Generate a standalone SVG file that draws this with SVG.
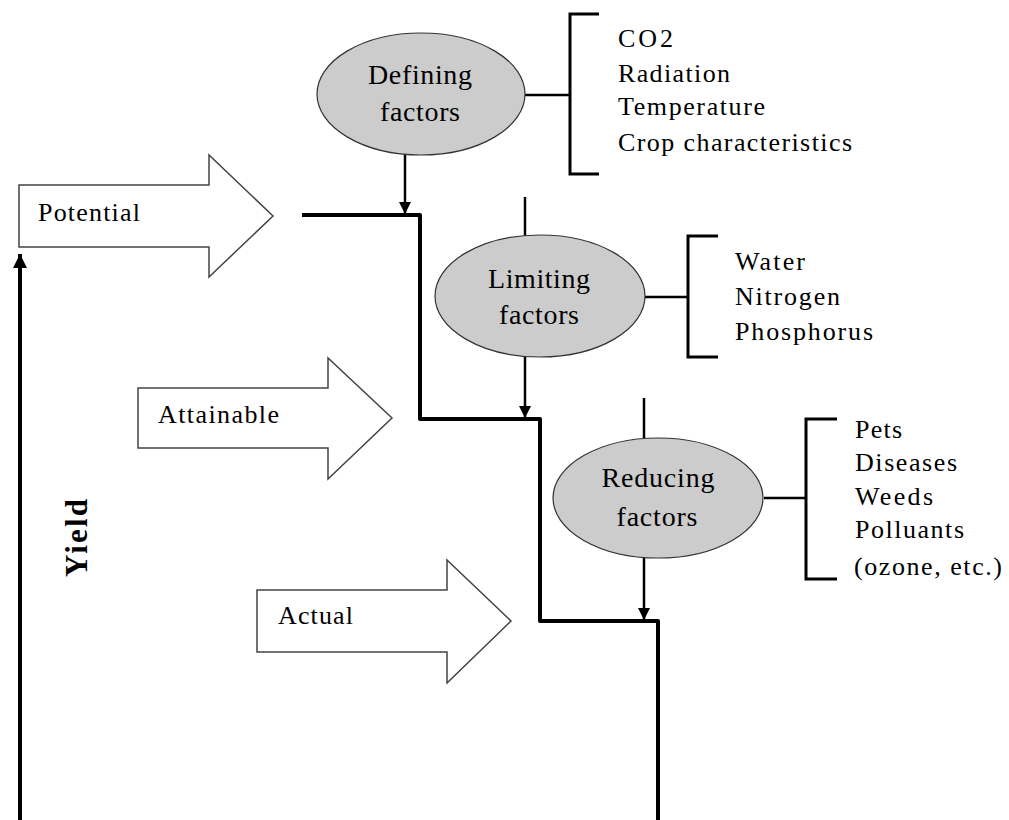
<svg xmlns="http://www.w3.org/2000/svg" width="1009" height="820" viewBox="0 0 1009 820">
<style>
text{font-family:"Liberation Serif","DejaVu Serif","Times New Roman",serif;font-size:26px;fill:#000}
.big{font-size:28px}
.ell{fill:#cccccc;stroke:#333;stroke-width:1.2}
.blk{fill:#fff;stroke:#444;stroke-width:1.5}
.thin{fill:none;stroke:#000;stroke-width:2.5}
.brk{fill:none;stroke:#000;stroke-width:3}
.step{fill:none;stroke:#000;stroke-width:4;stroke-linejoin:round}
.mid{text-anchor:middle}
</style>
<defs>
<marker id="ah" viewBox="0 0 10 10" refX="10" refY="5" markerWidth="5" markerHeight="5" markerUnits="strokeWidth" orient="auto">
<path d="M0,0 L10,5 L0,10 Z" fill="#000"/>
</marker>
<marker id="ahy" viewBox="0 0 10 10" refX="10" refY="5" markerWidth="3.5" markerHeight="3.5" markerUnits="strokeWidth" orient="auto">
<path d="M0,0 L10,5 L0,10 Z" fill="#000"/>
</marker>
</defs>
<rect width="1009" height="820" fill="#fff"/>

<g id="connectors">
<path class="step" d="M302,215 H420 V419 H540 V621 H658 V820"/>
<line class="thin" x1="405" y1="155" x2="405" y2="214" marker-end="url(#ah)"/>
<line class="thin" x1="525" y1="197" x2="525" y2="236"/>
<line class="thin" x1="525" y1="357" x2="525" y2="418" marker-end="url(#ah)"/>
<line class="thin" x1="644" y1="398" x2="644" y2="438"/>
<line class="thin" x1="644" y1="558" x2="644" y2="620" marker-end="url(#ah)"/>
<line class="thin" x1="525" y1="95" x2="570" y2="95"/>
<line class="thin" x1="645" y1="297" x2="688" y2="297"/>
<line class="thin" x1="764" y1="498" x2="806" y2="498"/>
<line x1="20" y1="820" x2="20" y2="254" stroke="#000" stroke-width="4" marker-end="url(#ahy)"/>
</g>

<g id="defining">
<ellipse class="ell" cx="421" cy="94" rx="104" ry="61"/>
<text class="mid big" x="420" y="84" textLength="104" lengthAdjust="spacing">Defining</text>
<text class="mid big" x="420" y="121" textLength="80" lengthAdjust="spacing">factors</text>
</g>
<g id="defining-list">
<path class="brk" d="M599,14 H570 V174 H599"/>
<text x="618" y="47" textLength="55" lengthAdjust="spacing">CO2</text>
<text x="618" y="82" textLength="112" lengthAdjust="spacing">Radiation</text>
<text x="618" y="115" textLength="147" lengthAdjust="spacing">Temperature</text>
<text x="618" y="151" textLength="234" lengthAdjust="spacing">Crop characteristics</text>
</g>

<g id="limiting">
<ellipse class="ell" cx="540" cy="296" rx="105" ry="61"/>
<text class="mid big" x="539" y="288" textLength="102" lengthAdjust="spacing">Limiting</text>
<text class="mid big" x="539" y="324" textLength="80" lengthAdjust="spacing">factors</text>
</g>
<g id="limiting-list">
<path class="brk" d="M718,236 H688 V357 H718"/>
<text x="735" y="270" textLength="70" lengthAdjust="spacing">Water</text>
<text x="735" y="305" textLength="105" lengthAdjust="spacing">Nitrogen</text>
<text x="735" y="340" textLength="138" lengthAdjust="spacing">Phosphorus</text>
</g>

<g id="reducing">
<ellipse class="ell" cx="658" cy="498" rx="105" ry="60"/>
<text class="mid big" x="658" y="487" textLength="113" lengthAdjust="spacing">Reducing</text>
<text class="mid big" x="657" y="526" textLength="81" lengthAdjust="spacing">factors</text>
</g>
<g id="reducing-list">
<path class="brk" d="M837,419 H806 V579 H837"/>
<text x="855" y="438" textLength="47" lengthAdjust="spacing">Pets</text>
<text x="855" y="471" textLength="102" lengthAdjust="spacing">Diseases</text>
<text x="855" y="505" textLength="78" lengthAdjust="spacing">Weeds</text>
<text x="855" y="538" textLength="109" lengthAdjust="spacing">Polluants</text>
<text x="854" y="575" textLength="148" lengthAdjust="spacing">(ozone, etc.)</text>
</g>

<g id="potential">
<polygon class="blk" points="19,185 209,185 209,155 273,216 209,277 209,247 19,247"/>
<text x="38" y="221" textLength="102" lengthAdjust="spacing">Potential</text>
</g>
<g id="attainable">
<polygon class="blk" points="138,388 328,388 328,358 392,418 328,479 328,448 138,448"/>
<text x="158" y="423" textLength="121" lengthAdjust="spacing">Attainable</text>
</g>
<g id="actual">
<polygon class="blk" points="257,590 447,590 447,560 511,621 447,683 447,652 257,652"/>
<text x="278" y="624" textLength="75" lengthAdjust="spacing">Actual</text>
</g>

<g id="yield">
<text transform="translate(87,538) rotate(-90)" text-anchor="middle" style="font-weight:bold;font-size:31px" textLength="78" lengthAdjust="spacing">Yield</text>
</g>
</svg>
